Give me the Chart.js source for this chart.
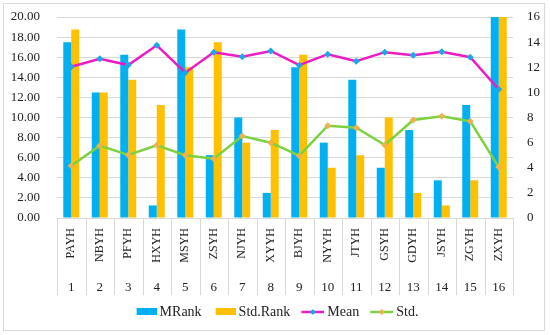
<!DOCTYPE html>
<html><head><meta charset="utf-8">
<script src="https://cdn.jsdelivr.net/npm/chart.js@4/dist/chart.umd.min.js"></script>
<style>
html,body{margin:0;padding:0;background:#fff}
#wrap{position:relative;width:550px;height:335px}
#frame{position:absolute;left:3px;top:3px;width:540px;height:326px;border:1px solid #d9d9d9;pointer-events:none}
canvas{position:absolute;left:0;top:0}
</style></head>
<body><div id="wrap"><canvas id="c" width="550" height="335"></canvas><div id="frame"></div></div>
<script>
const categories = ['PAYH','NBYH','PFYH','HXYH','MSYH','ZSYH','NJYH','XYYH','BJYH','NYYH','JTYH','GSYH','GDYH','JSYH','ZGYH','ZXYH'];
const indexLabels = ['1','2','3','4','5','6','7','8','9','10','11','12','13','14','15','16'];
const mRank = [14,10,13,1,15,5,8,2,12,6,11,4,7,3,9,16];
const stdRank = [15,10,11,9,12,14,6,7,13,4,5,8,2,1,3,16];
const meanVals = [15.05,15.85,15.22,17.18,14.46,16.49,16.05,16.62,15.2,16.3,15.6,16.5,16.2,16.55,16.0,12.8];
const stdVals = [5.2,7.2,6.27,7.23,6.24,5.9,8.16,7.49,6.2,9.18,8.98,7.26,9.75,10.12,9.62,5.07];
const leftTicks = {min:0, max:20, step:2};
const rightTicks = {min:0, max:16, step:2};

const C_BLUE='#00B0F0', C_ORANGE='#FFC000', C_MEAN='#EE1BC4', C_STD='#7CD13F', C_MEANPT='#1CA8E8', C_STDPT='#EDB14E', C_GRID='#d9d9d9';
const FONT='"Liberation Serif", "DejaVu Serif", serif';

function icon(kind, color, ptColor){
  const cv=document.createElement('canvas'); cv.width=28; cv.height=12;
  const g=cv.getContext('2d');
  const x0=8;
  if(kind==='bar'){ g.fillStyle=color; g.fillRect(x0,2,20,7); }
  else {
    g.strokeStyle=color; g.lineWidth=2.5; g.beginPath(); g.moveTo(x0-3,6); g.lineTo(x0+20,6); g.stroke();
    g.fillStyle=ptColor; g.beginPath(); const cx=x0+8.5; g.moveTo(cx,3); g.lineTo(cx+3,6); g.lineTo(cx,9); g.lineTo(cx-3,6); g.closePath(); g.fill();
  }
  return cv;
}
const icons=[icon('bar',C_BLUE),icon('bar',C_ORANGE),icon('line',C_MEAN,C_MEANPT),icon('line',C_STD,C_STDPT)];

// separators of the two-level category axis, placed from the x scale itself
const separators={id:'separators',afterDraw(chart){
  const xs=chart.scales.x, x2=chart.scales.x2, ctx=chart.ctx;
  const n=xs.ticks.length, w=(xs.right-xs.left)/n;
  ctx.save(); ctx.strokeStyle=C_GRID; ctx.lineWidth=1;
  for(let i=0;i<=n;i++){
    const px=Math.round(xs.left+i*w)+0.5;
    ctx.beginPath(); ctx.moveTo(px,xs.top); ctx.lineTo(px,x2.bottom); ctx.stroke();
  }
  ctx.restore();
}};

new Chart(document.getElementById('c'),{
  data:{
    labels:categories,
    datasets:[
      {type:'bar',label:'MRank',data:mRank,backgroundColor:C_BLUE,yAxisID:'y1',xAxisID:'x',order:2,categoryPercentage:0.56,barPercentage:1},
      {type:'bar',label:'Std.Rank',data:stdRank,backgroundColor:C_ORANGE,yAxisID:'y1',xAxisID:'x',order:2,categoryPercentage:0.56,barPercentage:1},
      {type:'line',label:'Mean',data:meanVals,borderColor:C_MEAN,borderWidth:2.5,pointStyle:'rectRot',pointRadius:3.5,pointBackgroundColor:C_MEANPT,pointBorderColor:C_MEANPT,pointBorderWidth:0,yAxisID:'y',xAxisID:'x',order:1,tension:0},
      {type:'line',label:'Std.',data:stdVals,borderColor:C_STD,borderWidth:2.5,pointStyle:'rectRot',pointRadius:3.5,pointBackgroundColor:C_STDPT,pointBorderColor:C_STDPT,pointBorderWidth:0,yAxisID:'y',xAxisID:'x',order:1,tension:0}
    ]
  },
  plugins:[separators],
  options:{
    responsive:false,animation:false,
    layout:{padding:{left:11,right:10,top:17,bottom:6}},
    plugins:{
      tooltip:{enabled:false},
      legend:{position:'bottom',
        labels:{usePointStyle:true,pointStyleWidth:20,padding:10,color:'#222',font:{family:FONT,size:14},
          generateLabels:(chart)=>chart.data.datasets.map((d,i)=>({text:d.label,pointStyle:icons[i],datasetIndex:i,fillStyle:'rgba(0,0,0,0)',strokeStyle:'rgba(0,0,0,0)',lineWidth:0,hidden:false,fontColor:'#222'}))
        }}
    },
    scales:{
      x:{position:'bottom',offset:true,weight:0,
        grid:{display:false},border:{display:false},
        ticks:{minRotation:90,maxRotation:90,autoSkip:false,padding:2,color:'#222',font:{family:FONT,size:12}},
        afterFit:s=>{s.paddingLeft=0;s.paddingRight=0;s.height=45;}},
      x2:{type:'category',labels:indexLabels,position:'bottom',offset:true,weight:1,
        grid:{display:false},border:{display:false},
        ticks:{maxRotation:0,autoSkip:false,padding:9,color:'#222',font:{family:FONT,size:13}},
        afterFit:s=>{s.paddingLeft=0;s.paddingRight=0;s.height=32;}},
      y:{position:'left',min:leftTicks.min,max:leftTicks.max,
        grid:{color:C_GRID,drawTicks:false},border:{display:false},
        ticks:{stepSize:leftTicks.step,autoSkip:false,padding:17,color:'#222',font:{family:FONT,size:13},callback:v=>Number(v).toFixed(2)},
        afterFit:s=>{s.width=46;s.paddingTop=0;s.paddingBottom=0;}},
      y1:{position:'right',min:rightTicks.min,max:rightTicks.max,
        grid:{drawOnChartArea:false,drawTicks:false},border:{display:false},
        ticks:{stepSize:rightTicks.step,autoSkip:false,padding:14,color:'#222',font:{family:FONT,size:13}},
        afterFit:s=>{s.width=27;s.paddingTop=0;s.paddingBottom=0;}}
    }
  }
});
</script>
</body></html>
